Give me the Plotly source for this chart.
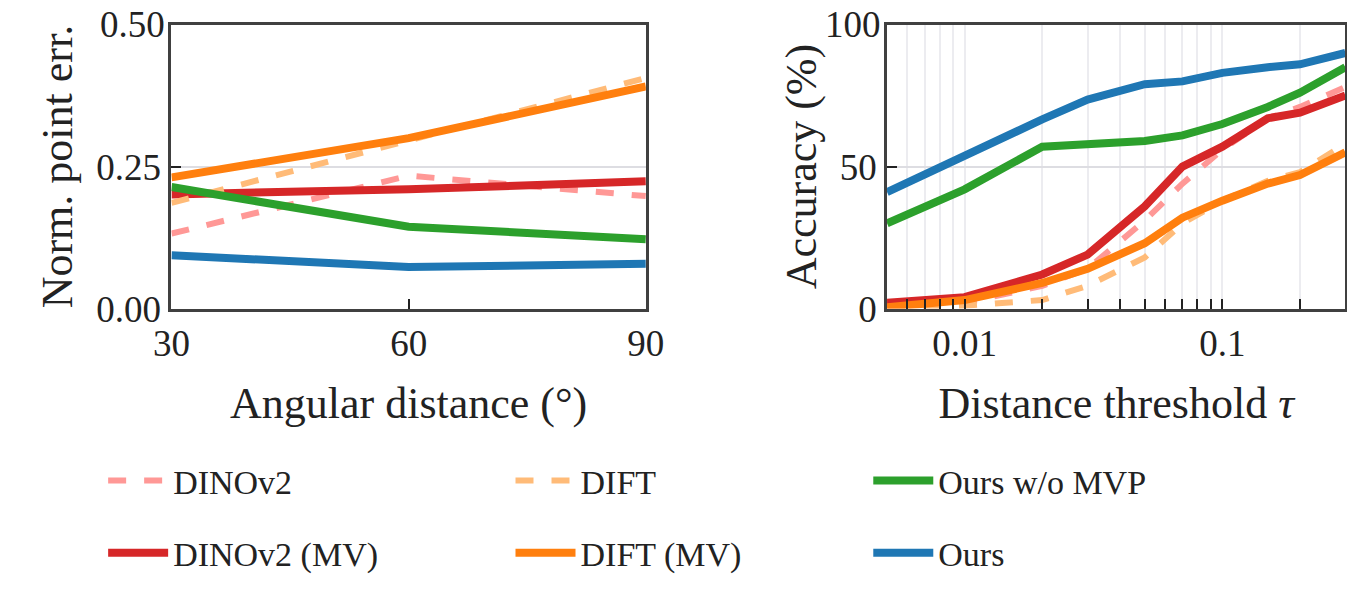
import plotly.graph_objects as go

ang = [30, 60, 90]
L_dino = [0.132, 0.234, 0.198]
L_dino_mv = [0.201, 0.210, 0.224]
L_dift = [0.186, 0.297, 0.406]
L_dift_mv = [0.231, 0.300, 0.391]
L_ours_womvp = [0.214, 0.144, 0.122]
L_ours = [0.094, 0.073, 0.079]

tau = [0.005, 0.01, 0.02, 0.03, 0.05, 0.07, 0.1, 0.15, 0.2, 0.3]
R_dino = [1, 2, 8, 14, 31, 44, 56, 67, 71, 78]
R_dino_mv = [2, 4, 12, 19, 36, 50, 57, 67, 69, 75]
R_dift = [0, 1, 3, 8, 18, 30, 38, 45, 48, 58]
R_dift_mv = [0.5, 3, 9, 14, 23, 32, 38, 44, 47, 55]
R_ours_womvp = [30, 42, 57, 58, 59, 61, 65, 71, 76, 85]
R_ours = [41, 54, 66.6, 73.6, 79, 80, 83, 85, 86, 90]

series = [
    ("DINOv2", L_dino, R_dino, "#ff9896", "dash", 6, "legend"),
    ("DINOv2 (MV)", L_dino_mv, R_dino_mv, "#d62728", "solid", 8, "legend"),
    ("DIFT", L_dift, R_dift, "#ffbb78", "dash", 6, "legend2"),
    ("DIFT (MV)", L_dift_mv, R_dift_mv, "#ff7f0e", "solid", 8, "legend2"),
    ("Ours w/o MVP", L_ours_womvp, R_ours_womvp, "#2ca02c", "solid", 8, "legend3"),
    ("Ours", L_ours, R_ours, "#1f77b4", "solid", 8, "legend3"),
]

fig = go.Figure()
for name, l, r, c, d, w, lg in series:
    fig.add_trace(go.Scatter(x=ang, y=l, mode="lines", name=name, legend=lg, legendgroup=name,
                             line=dict(color=c, dash=d, width=w), xaxis="x", yaxis="y"))
    fig.add_trace(go.Scatter(x=tau, y=r, mode="lines", name=name, showlegend=False,
                             line=dict(color=c, dash=d, width=w), xaxis="x2", yaxis="y2"))

font = dict(family="Liberation Serif", size=37, color="#222")
ax = dict(showline=True, mirror=True, linecolor="#404040", linewidth=3, automargin=False,
          ticks="inside", ticklen=10, tickwidth=2, tickcolor="#222",
          tickfont=font, zeroline=False, title_font=dict(family="Liberation Serif", size=44, color="#222"))
minor = [0.006, 0.007, 0.008, 0.009, 0.01, 0.02, 0.03, 0.04, 0.05, 0.06, 0.07, 0.08, 0.09, 0.1, 0.2, 0.3]
fig.update_layout(
    width=1340, height=574, margin=dict(l=0, r=0, t=0, b=0),
    plot_bgcolor="white", paper_bgcolor="white", font=font,
    xaxis=dict(ax, domain=[0.122, 0.476], range=[30, 90], tickvals=[30, 60, 90],
               showgrid=False, title_text="Angular distance (°)", title_standoff=25, anchor="y"),
    yaxis=dict(ax, domain=[0.4565, 0.97], range=[0, 0.5], tickvals=[0, 0.25, 0.5],
               ticktext=["0.00", "0.25", "0.50"], showgrid=True, gridcolor="#dddde2", gridwidth=2,
               title_text="Norm. point err.", title_standoff=10, anchor="x"),
    xaxis2=dict(ax, domain=[0.656, 0.998], type="log", range=[-2.301, -0.523],
                tickvals=minor, ticktext=["" if v not in (0.01, 0.1) else str(v) for v in minor],
                showgrid=True, gridcolor="#ececf0", gridwidth=2,
                title_text="Distance threshold <i>τ</i>", title_standoff=25, anchor="y2"),
    yaxis2=dict(ax, domain=[0.4565, 0.97], range=[0, 100], tickvals=[0, 50, 100],
                showgrid=True, gridcolor="#dddde2", gridwidth=2,
                title_text="Accuracy (%)", title_standoff=10, anchor="x2"),
)
# top tick labels (plotly drops them at the paper edge)
fig.add_annotation(text="0.50", xref="paper", yref="y", x=0.122, y=0.5, xanchor="right",
                   yanchor="middle", showarrow=False, xshift=-4, font=font)
fig.add_annotation(text="100", xref="paper", yref="y2", x=0.656, y=100, xanchor="right",
                   yanchor="middle", showarrow=False, xshift=-4, font=font)
lgd = dict(orientation="v", yanchor="top", y=0.197, font=dict(family="Liberation Serif", size=34, color="#222"),
           bgcolor="rgba(0,0,0,0)", itemwidth=60, tracegroupgap=25)
fig.update_layout(legend=dict(lgd, x=0.071), legend2=dict(lgd, x=0.375), legend3=dict(lgd, x=0.642))
fig.write_html("out.html")
